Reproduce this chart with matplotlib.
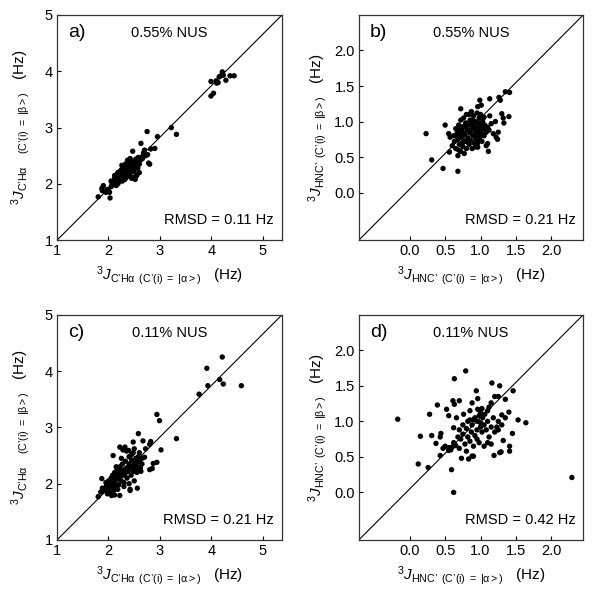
import numpy as np
import matplotlib
matplotlib.use("Agg")
import matplotlib.pyplot as plt

plt.rcParams['font.family'] = ['Liberation Sans', 'DejaVu Sans']
plt.rcParams['mathtext.fontset'] = 'custom'
plt.rcParams['mathtext.rm'] = 'Liberation Sans'
plt.rcParams['mathtext.it'] = 'Liberation Sans:italic'
plt.rcParams['mathtext.bf'] = 'Liberation Sans:bold'

# panel a: C'Ha, 0.55% NUS
a_x = [1.80, 1.87, 1.90, 1.88, 1.97, 2.02, 2.03, 2.00, 2.05, 2.07, 2.10, 2.08, 2.12, 2.14, 2.15, 2.17,
       2.18, 2.20, 2.20, 2.22, 2.23, 2.25, 2.25, 2.27, 2.28, 2.30, 2.30, 2.32, 2.33, 2.34, 2.35, 2.36,
       2.37, 2.38, 2.38, 2.40, 2.40, 2.41, 2.42, 2.43, 2.44, 2.45, 2.45, 2.46, 2.47, 2.48, 2.48, 2.50,
       2.50, 2.52, 2.53, 2.54, 2.55, 2.56, 2.57, 2.58, 2.60, 2.60, 2.62, 2.63, 2.65, 2.68, 2.70, 2.72,
       2.75, 2.76, 2.78, 2.80, 2.82, 2.90, 2.95, 3.22, 3.32, 2.15, 2.18, 2.22, 2.28, 2.35, 2.42, 2.52,
       2.12, 2.05, 1.95, 2.26, 2.32, 2.46, 2.38, 2.44, 2.58, 2.66, 2.30, 2.24, 2.16, 2.11, 2.29, 2.36,
       2.50, 3.99, 4.09, 4.15, 4.21, 4.23, 4.10, 4.18, 4.36, 4.44, 4.28, 3.99, 4.04, 4.13]
a_y = [1.77, 1.92, 1.97, 1.88, 1.90, 1.85, 1.75, 1.88, 1.95, 2.00, 2.05, 1.98, 2.10, 2.02, 2.15, 2.08,
       2.20, 2.12, 2.03, 2.18, 2.10, 2.25, 2.15, 2.05, 2.20, 2.12, 2.28, 2.22, 2.35, 2.17, 2.25, 2.30,
       2.42, 2.20, 2.32, 2.27, 2.38, 2.15, 2.30, 2.35, 2.24, 2.40, 2.10, 2.32, 2.58, 2.27, 2.12, 2.38,
       2.22, 2.30, 2.44, 2.33, 2.15, 2.40, 2.28, 2.47, 2.35, 2.20, 2.42, 2.72, 2.48, 2.55, 2.60, 2.50,
       2.93, 2.52, 2.37, 2.35, 2.62, 2.63, 2.84, 3.00, 2.88, 1.97, 2.00, 2.22, 2.30, 2.12, 2.45, 2.08,
       2.15, 2.05, 1.85, 2.33, 2.08, 2.22, 2.25, 2.37, 2.42, 2.45, 2.18, 2.14, 2.12, 2.00, 2.24, 2.38,
       2.32, 3.82, 3.83, 3.90, 3.99, 3.93, 3.79, 3.92, 3.92, 3.92, 3.84, 3.56, 3.61, 3.80]

# panel b: HNC', 0.55% NUS
b_x = [0.23, 0.31, 0.47, 0.68, 0.50, 0.72, 0.99, 1.13, 1.26, 1.35, 1.41, 1.30, 1.32, 1.40, 1.21, 1.13,
       1.22, 1.10, 1.11, 0.96, 0.68, 0.56, 1.01, 0.96, 1.28, 1.33, 1.25, 1.18, 1.24,
       0.55, 0.57, 0.60, 0.62, 0.63, 0.65, 0.65, 0.67, 0.68, 0.69, 0.70, 0.70, 0.72, 0.72, 0.73, 0.74,
       0.75, 0.75, 0.76, 0.77, 0.78, 0.78, 0.79, 0.80, 0.80, 0.81, 0.82, 0.83, 0.84, 0.85, 0.85, 0.86,
       0.87, 0.88, 0.88, 0.89, 0.90, 0.90, 0.91, 0.92, 0.93, 0.93, 0.94, 0.95, 0.95, 0.96, 0.97, 0.98,
       0.98, 0.99, 1.00, 1.00, 1.01, 1.02, 1.03, 1.04, 1.05, 1.05, 1.06, 1.08, 1.08, 1.10, 1.12, 1.15,
       0.66, 0.71, 0.76, 0.83, 0.87, 0.92, 0.97, 1.02, 0.79, 0.74, 0.69, 0.89, 0.94, 0.84]
b_y = [0.83, 0.46, 0.34, 0.30, 0.95, 1.18, 1.30, 1.32, 1.34, 1.42, 1.41, 1.11, 1.05, 1.07, 1.00, 1.08,
       0.78, 0.69, 0.58, 0.64, 0.52, 0.57, 1.23, 1.21, 1.30, 0.98, 0.85, 0.83, 0.75,
       0.83, 0.78, 0.66, 0.80, 0.72, 0.90, 0.62, 0.85, 0.75, 0.95, 0.68, 0.82, 0.58, 1.02, 0.88, 0.77,
       0.65, 0.93, 1.05, 0.55, 0.82, 0.72, 0.98, 0.62, 1.10, 0.88, 0.77, 0.95, 0.68, 1.02, 0.84, 0.73,
       1.14, 0.90, 0.62, 0.80, 1.08, 0.96, 0.70, 0.86, 1.00, 0.76, 0.92, 1.12, 0.82, 0.70, 0.98, 0.88,
       1.05, 0.78, 0.94, 1.10, 0.84, 0.72, 1.00, 0.90, 0.80, 1.06, 0.95, 0.85, 0.66, 0.92, 0.88, 0.97,
       0.80, 0.90, 0.84, 0.70, 0.96, 0.64, 0.74, 0.97, 0.92, 0.70, 0.60, 1.02, 0.84, 1.10]

# panel c: C'Ha, 0.11% NUS
c_x = [3.91, 4.21, 3.93, 4.16, 4.23, 4.58, 3.76, 3.32, 2.94, 2.99, 3.02, 2.94, 2.87, 2.80, 2.85, 2.58,
       2.67, 2.82, 2.80, 2.48, 2.32, 2.39, 2.09, 2.22, 1.87, 1.96, 2.06, 2.22, 1.80, 2.56, 2.42, 2.72,
       2.70, 2.65, 2.60,
       1.85, 1.88, 1.92, 1.95, 1.97, 2.00, 2.00, 2.02, 2.04, 2.05, 2.07, 2.08, 2.10, 2.10, 2.12, 2.13,
       2.15, 2.15, 2.17, 2.18, 2.20, 2.20, 2.22, 2.23, 2.25, 2.25, 2.27, 2.28, 2.30, 2.30, 2.32, 2.33,
       2.35, 2.36, 2.38, 2.40, 2.40, 2.42, 2.44, 2.45, 2.46, 2.48, 2.50, 2.50, 2.52, 2.53, 2.55, 2.55,
       2.57, 2.58, 2.60, 2.62, 2.63, 2.45, 2.35, 2.28, 2.40, 2.48, 2.30, 2.18, 2.12, 1.98, 2.25, 2.15,
       2.42, 2.50, 2.65, 2.58]
c_y = [4.05, 4.25, 3.74, 3.85, 3.77, 3.74, 3.59, 2.80, 3.23, 3.12, 2.60, 2.38, 2.36, 2.25, 2.27, 2.89,
       2.76, 2.75, 2.70, 2.74, 2.65, 2.59, 2.50, 2.65, 2.09, 1.97, 1.79, 1.79, 1.77, 1.92, 1.90, 2.62,
       2.47, 2.45, 2.55,
       1.85, 1.92, 1.88, 2.02, 1.95, 2.05, 1.92, 1.85, 2.00, 2.10, 1.95, 2.15, 2.05, 1.88, 2.20, 2.00,
       2.12, 1.95, 2.25, 2.08, 2.18, 1.98, 2.30, 2.12, 2.05, 2.22, 2.35, 2.15, 2.25, 2.02, 2.18, 2.40,
       2.28, 2.10, 2.22, 2.35, 2.00, 2.28, 2.15, 2.42, 2.30, 2.22, 2.35, 2.05, 2.28, 2.45, 2.20, 2.38,
       2.30, 2.25, 2.40, 2.28, 2.22, 2.52, 2.58, 2.60, 2.48, 2.55, 1.95, 1.90, 1.80, 1.82, 2.45, 2.30,
       1.88, 2.62, 2.35, 2.48]

# panel d: HNC', 0.11% NUS
d_x = [-0.17, 0.12, 0.26, 0.15, 0.28, 0.31, 0.37, 0.39, 0.43, 0.43, 0.52, 0.55, 0.59, 0.62, 0.63, 0.61,
       0.63, 0.70, 0.66, 0.62, 0.79, 0.76, 0.94, 1.16, 1.27, 1.20, 1.25, 1.35, 1.46, 1.53, 1.64, 1.45,
       1.41, 1.41, 1.29, 1.27, 1.19, 0.88, 0.83, 0.73, 0.90, 2.29, 0.88, 0.96, 1.15, 0.96, 1.30, 1.40,
       1.23, 1.25, 1.32, 0.85, 0.44, 0.55,
       0.50, 0.55, 0.60, 0.65, 0.62, 0.70, 0.72, 0.75, 0.78, 0.80, 0.82, 0.85, 0.87, 0.88, 0.90, 0.92,
       0.95, 0.96, 0.98, 1.00, 1.00, 1.02, 1.03, 1.05, 1.06, 1.08, 1.10, 1.10, 1.12, 1.15, 1.18, 1.20,
       0.98, 0.90, 0.80, 0.70, 0.95, 1.05, 1.15, 0.85, 1.02, 1.10, 0.75, 0.68, 1.25, 1.30, 1.35, 0.92,
       0.82, 0.58, 0.47, 1.12, 1.00]
d_y = [1.03, 0.40, 0.35, 0.79, 1.10, 0.80, 0.69, 1.23, 0.78, 0.52, 1.17, 1.08, 0.32, 0.00, 1.60, 1.29,
       1.24, 1.29, 1.05, 0.91, 1.71, 1.10, 1.43, 1.54, 1.50, 1.35, 1.35, 1.31, 1.43, 1.02, 0.98, 0.83,
       0.65, 0.58, 0.57, 0.56, 0.52, 0.51, 0.47, 0.48, 0.51, 0.21, 1.26, 1.32, 1.26, 1.17, 1.09, 1.13,
       0.92, 0.88, 0.73, 1.02, 0.83, 0.59,
       0.65, 0.63, 0.64, 0.66, 0.70, 0.62, 0.75, 0.82, 0.68, 0.90, 0.78, 0.72, 0.85, 0.95, 1.02, 0.80,
       0.88, 1.00, 1.08, 0.92, 1.12, 0.85, 1.05, 0.95, 1.10, 0.88, 1.00, 0.70, 0.78, 0.92, 1.05, 0.85,
       0.70, 0.65, 0.58, 0.88, 0.75, 0.65, 0.68, 1.15, 1.18, 1.15, 0.95, 0.78, 1.00, 0.95, 1.05, 1.05,
       1.00, 0.60, 0.62, 1.20, 0.98]

caha_ticks = [1, 2, 3, 4, 5]
hnc_ticks = [0.0, 0.5, 1.0, 1.5, 2.0]

P = "\u2019"  # prime-like quote, C' in the labels
caha_xlabel = r"$^{3}J_{\mathrm{C" + P + r"H\alpha}}\ {}_{\mathrm{(C" + P + r"(i)\ =\ |\alpha>)}}$   (Hz)"
caha_ylabel = r"$^{3}J_{\mathrm{C" + P + r"H\alpha}}\ \ \ {}_{\mathrm{(C" + P + r"(i)\ =\ |\beta>)}}$   (Hz)"
hnc_xlabel = r"$^{3}J_{\mathrm{HNC" + P + r"}}\ {}_{\mathrm{(C" + P + r"(i)\ =\ |\alpha>)}}$   (Hz)"
hnc_ylabel = r"$^{3}J_{\mathrm{HNC" + P + r"}}\ {}_{\mathrm{(C" + P + r"(i)\ =\ |\beta>)}}$   (Hz)"

panels = [
    # label, nus, rmsd, x, y, kind, position
    ("a)", "0.55% NUS", "RMSD = 0.11 Hz", a_x, a_y, "caha", [0.095, 0.599, 0.375, 0.376]),
    ("b)", "0.55% NUS", "RMSD = 0.21 Hz", b_x, b_y, "hnc", [0.598, 0.599, 0.374, 0.376]),
    ("c)", "0.11% NUS", "RMSD = 0.21 Hz", c_x, c_y, "caha", [0.095, 0.0985, 0.375, 0.376]),
    ("d)", "0.11% NUS", "RMSD = 0.42 Hz", d_x, d_y, "hnc", [0.598, 0.0985, 0.374, 0.376]),
]

fig = plt.figure(figsize=(6, 5.99), dpi=100)

for lab, nus, rmsd, x, y, kind, pos in panels:
    ax = fig.add_axes(pos)
    ax.scatter(x, y, s=15, c='black', edgecolors='none', zorder=3)
    ax.plot([0, 1], [0, 1], transform=ax.transAxes, color='black', lw=0.8)
    if kind == "caha":
        ax.set_xlim(1, 5.37)
        ax.set_ylim(1, 5)
        ax.set_xticks(caha_ticks)
        ax.set_yticks(caha_ticks)
        ax.set_xticklabels([str(t) for t in caha_ticks])
        ax.set_yticklabels([str(t) for t in caha_ticks])
        ax.set_xlabel(caha_xlabel, fontsize=11, labelpad=4)
        ax.set_ylabel(caha_ylabel, fontsize=11, labelpad=9)
    else:
        ax.set_xlim(-0.72, 2.45)
        ax.set_ylim(-0.67, 2.5)
        ax.set_xticks(hnc_ticks)
        ax.set_yticks(hnc_ticks)
        ax.set_xticklabels(["%.1f" % t for t in hnc_ticks])
        ax.set_yticklabels(["%.1f" % t for t in hnc_ticks])
        ax.set_xlabel(hnc_xlabel, fontsize=11, labelpad=4)
        ax.set_ylabel(hnc_ylabel, fontsize=11, labelpad=4)
    ax.tick_params(direction='in', length=3, width=0.8, labelsize=10.5, pad=3)
    for sp in ax.spines.values():
        sp.set_linewidth(0.9)
        sp.set_color('#333333')
    ax.text(0.05, 0.92, lab, transform=ax.transAxes, fontsize=14, va='center', ha='left')
    ax.text(0.50, 0.92, nus, transform=ax.transAxes, fontsize=10.5, va='center', ha='center')
    ax.text(0.965, 0.09, rmsd, transform=ax.transAxes, fontsize=10.5, va='center', ha='right')

fig.savefig("out.png", dpi=100)
